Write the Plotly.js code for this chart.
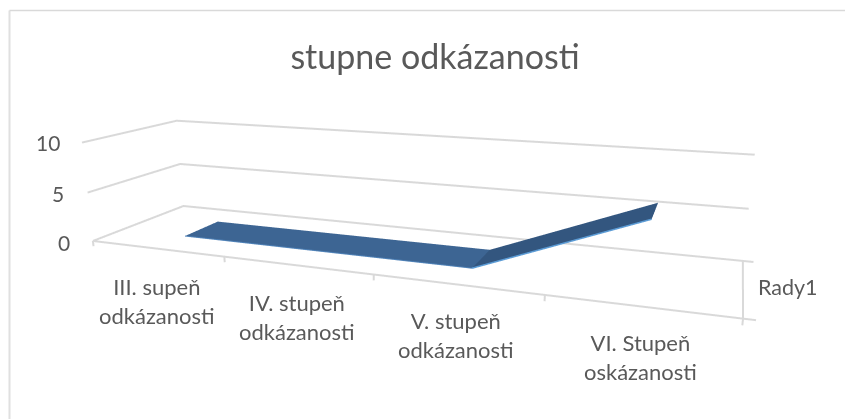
<!DOCTYPE html>
<html><head><meta charset="utf-8">
<script src="https://cdn.plot.ly/plotly-3.0.1.min.js"></script>
<style>html,body{margin:0;padding:0;background:#fff;overflow:hidden;width:845px;height:419px}#c{position:absolute;left:-19px;top:-114px;width:864px;height:704px}text{font-variant-ligatures:none}</style></head>
<body><div id="c"></div>
<script>
const chartTitle = "stupne odkázanosti";
const categories = ["III. supeň<br>odkázanosti","IV. stupeň<br>odkázanosti","V. stupeň<br>odkázanosti","VI. Stupeň<br>oskázanosti"];
const values = [0,0,0,6];
const seriesName = "Rady1";
const valueTicks = [0,5,10];

// Layout helpers: scene is drawn in a larger viewport so its perspective matches the original 3-D chart.
const W=864,H=704,left=-19,top_=-114;
const px=x=>(x-left)/W, py=y=>1-(y-top_)/H;
const catPos=[[157,301],[297,317],[456,335],[640,357]];
const tickPos=[[72,242],[66,193],[62,143]];
const depthFront=0.309, depthBack=0.698;
const slots=categories.length;
const xLo=0.5, xHi=slots+0.5;

const X=[],Y=[],Z=[],I=[],J=[],K=[],FC=[];
values.forEach((v,i)=>{X.push(i+1,i+1);Y.push(depthFront,depthBack);Z.push(v,v);});
for(let s=0;s<values.length-1;s++){const a=2*s;const col=values[s+1]>values[s]?"#33567f":"#3d6593";
 I.push(a,a+1);J.push(a+1,a+3);K.push(a+2,a+2);FC.push(col,col);}
const ribbon={type:"mesh3d",x:X,y:Y,z:Z,i:I,j:J,k:K,facecolor:FC,flatshading:true,
 lighting:{ambient:1,diffuse:0,specular:0,roughness:1,fresnel:0},hoverinfo:"skip",showscale:false,name:seriesName};
const traces=[ribbon];
for(let s=0;s<values.length-1;s++){const rising=values[s+1]>values[s];
 traces.push({type:"scatter3d",mode:"lines",x:[s+1,s+2],y:[depthFront-0.004,depthFront-0.004],z:[values[s],values[s+1]],
  line:{color:rising?"#5b9bd5":"#4f82b8",width:rising?3:2},hoverinfo:"skip",showlegend:false});}
const gl=(x,y,z)=>({type:"scatter3d",mode:"lines",x,y,z,line:{color:"#d9d9d9",width:4},hoverinfo:"skip",showlegend:false});
valueTicks.forEach(z=>traces.push(gl([xLo,xLo,xHi],[0,1,1],[z,z,z])));
traces.push(gl([xLo,xHi],[0,0],[0,0]));
traces.push(gl([xHi,xHi],[0,1],[0,0]));
for(let i=0;i<=slots;i++) traces.push(gl([xLo+i,xLo+i],[0,0],[0,-0.55]));
[0,1].forEach(d=>traces.push(gl([xHi,xHi+0.06],[d,d],[0,0])));

const txt=(s,x,y,size)=>({xref:"paper",yref:"paper",x:px(x),y:py(y),xanchor:"center",yanchor:"middle",align:"center",showarrow:false,text:s,font:{family:"Lato",size,color:"#595959"}});
const annotations=[
 ...categories.map((c,i)=>txt(c,catPos[i][0],catPos[i][1],22)),
 ...valueTicks.map((t,i)=>({...txt(String(t),tickPos[i][0],tickPos[i][1],21),xanchor:"right"})),
 txt(seriesName,788,287,21.5)];
const frame=[
 {type:"line",xref:"paper",yref:"paper",x0:px(9.5),x1:px(9.5),y0:py(419),y1:py(10.5),line:{color:"#e0e0e0",width:2}},
 {type:"line",xref:"paper",yref:"paper",x0:px(9.5),x1:px(845),y0:py(10.5),y1:py(10.5),line:{color:"#d9d9d9",width:1.5}}];
const hid={visible:false};
const layout={width:W,height:H,margin:{l:0,r:0,t:0,b:0},showlegend:false,paper_bgcolor:"rgba(0,0,0,0)",
 title:{text:chartTitle,font:{family:"Lato",size:34,color:"#595959"},x:px(435),xanchor:"center",y:py(57),yanchor:"middle"},
 annotations,shapes:frame,
 scene:{domain:{x:[0,1],y:[0,1]},aspectmode:"manual",aspectratio:{x:5.279,y:1.482,z:0.920},
  camera:{eye:{x:2.193,y:-5.880,z:1.551},center:{x:0.007,y:0,z:-0.272},up:{x:-0.164,y:0.446,z:1}},
  xaxis:{...hid,range:[0.4,4.7]},yaxis:{...hid,range:[-0.1,1.1]},zaxis:{...hid,range:[-1,10.5]}}};
Plotly.newPlot("c",traces,layout,{displayModeBar:false});
</script></body></html>
